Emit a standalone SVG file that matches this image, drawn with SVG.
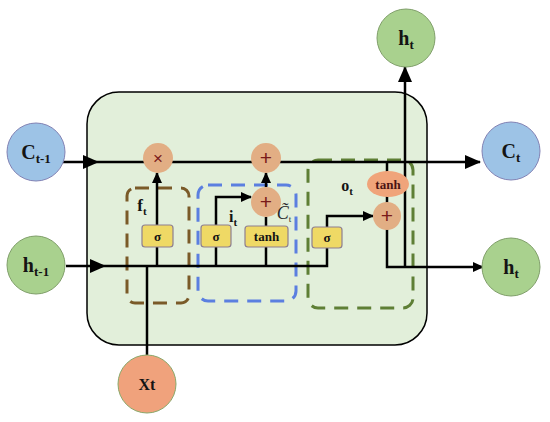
<svg xmlns="http://www.w3.org/2000/svg" width="550" height="422" viewBox="0 0 550 422">
<defs>
<marker id="ah" markerWidth="16" markerHeight="14" refX="15" refY="7" orient="auto" markerUnits="userSpaceOnUse"><path d="M0,0 L16,7 L0,14 Z" fill="#000"/></marker>
<marker id="as" markerWidth="11" markerHeight="10" refX="10" refY="5" orient="auto" markerUnits="userSpaceOnUse"><path d="M0,0 L11,5 L0,10 Z" fill="#000"/></marker>
</defs>
<style>
.ln{fill:none;stroke:#000;stroke-width:2.5}
.sig{fill:#efd965;stroke:#8e7f90;stroke-width:1.2}
.gate{fill:#e2ae84}
.t{font-family:"Liberation Serif",serif;font-weight:bold;fill:#141414;text-anchor:middle}
.op{font-family:"Liberation Sans",sans-serif;fill:#7a1a1a;text-anchor:middle}
.db{fill:none;stroke-width:3;stroke-dasharray:14 9}
.blue{fill:#9dc3e6;stroke:#8282b4;stroke-width:1}
.green{fill:#a9d18e;stroke:#809f6a;stroke-width:1}
</style>
<rect id="cell" x="87" y="92" width="340" height="253" rx="32" fill="#e2efda" stroke="#000" stroke-width="1.5"/>
<g id="boxes">
<rect id="fbox" class="db" x="127" y="188" width="62" height="115" rx="8" stroke="#7a5a28"/>
<rect id="ibox" class="db" x="198" y="185" width="98" height="116" rx="10" stroke="#5b7fe0"/>
<rect id="obox" class="db" x="308" y="160" width="105" height="148" rx="10" stroke="#5e7f35"/>
</g>
<g id="connectors">
<path class="ln" d="M62,162 H98" marker-end="url(#ah)"/>
<path class="ln" d="M98,162 H480" marker-end="url(#ah)"/>
<path class="ln" d="M66,266 H105" marker-end="url(#ah)"/>
<path class="ln" d="M105,266 H327 V216 H373" marker-end="url(#as)"/>
<path class="ln" d="M147,355 V266"/>
<path class="ln" d="M157,266 V173" marker-end="url(#as)"/>
<path class="ln" d="M216,266 V197 H251" marker-end="url(#as)"/>
<path class="ln" d="M266,266 V217"/>
<path class="ln" d="M266,187 V173" marker-end="url(#as)"/>
<path class="ln" d="M387,162 V172"/>
<path class="ln" d="M387,196 V203"/>
<path class="ln" d="M387,229 V267 H483" marker-end="url(#as)"/>
<path class="ln" d="M405,267 V67" marker-end="url(#ah)"/>
</g>
<g id="forget_sigma"><rect class="sig" x="142" y="225" width="31" height="22" rx="3"/><text class="t" x="157.5" y="241" font-size="13">σ</text></g>
<g id="input_sigma"><rect class="sig" x="201" y="225" width="30" height="22" rx="3"/><text class="t" x="216" y="241" font-size="13">σ</text></g>
<g id="input_tanh"><rect class="sig" x="245" y="226" width="43" height="21" rx="3"/><text class="t" x="266.5" y="241" font-size="13">tanh</text></g>
<g id="output_sigma"><rect class="sig" x="312" y="227" width="30" height="21" rx="3"/><text class="t" x="327" y="242" font-size="13">σ</text></g>
<g id="mul"><circle class="gate" cx="158" cy="158" r="15"/><text class="op" x="158" y="164" font-size="17">×</text></g>
<g id="add_top"><circle class="gate" cx="266" cy="158" r="15"/><text class="op" x="266" y="165" font-size="21">+</text></g>
<g id="add_mid"><circle class="gate" cx="266" cy="202" r="15"/><text class="op" x="266" y="209" font-size="21">+</text></g>
<g id="add_out"><circle class="gate" cx="387" cy="216" r="14"/><text class="op" x="387" y="223" font-size="21">+</text></g>
<g id="out_tanh"><ellipse cx="388" cy="184" rx="21" ry="13" fill="#f0a47a"/><text class="t" x="388" y="189" font-size="13" style="fill:#4a1414">tanh</text></g>
<g id="labels">
<text class="t" x="142" y="211" font-size="17">f<tspan font-size="11" dy="4">t</tspan></text>
<text class="t" x="233" y="222" font-size="16">i<tspan font-size="11" dy="4">t</tspan></text>
<text x="284" y="219" font-family="Liberation Serif, serif" font-style="italic" font-size="18" fill="#2a2a2a" text-anchor="middle">C&#x303;<tspan font-size="9" dy="3" font-style="normal">t</tspan></text>
<text class="t" x="347" y="191" font-size="16">o<tspan font-size="11" dy="4">t</tspan></text>
</g>
<g id="c_prev"><circle class="blue" cx="36" cy="152" r="29"/><text class="t" x="36" y="159" font-size="20">C<tspan font-size="13" dy="4">t-1</tspan></text></g>
<g id="h_prev"><circle class="green" cx="36" cy="265" r="29"/><text class="t" x="36" y="272" font-size="20">h<tspan font-size="13" dy="4">t-1</tspan></text></g>
<g id="x_t"><circle cx="147" cy="384" r="29" fill="#f0a27c" stroke="#8aa86a" stroke-width="1"/><text class="t" x="147" y="390" font-size="16">Xt</text></g>
<g id="h_top"><circle class="green" cx="406" cy="38" r="29"/><text class="t" x="406" y="45" font-size="20">h<tspan font-size="13" dy="4">t</tspan></text></g>
<g id="c_t"><circle class="blue" cx="511" cy="151" r="29"/><text class="t" x="511" y="158" font-size="20">C<tspan font-size="13" dy="4">t</tspan></text></g>
<g id="h_right"><circle class="green" cx="511" cy="267" r="29"/><text class="t" x="511" y="274" font-size="20">h<tspan font-size="13" dy="4">t</tspan></text></g>
</svg>
